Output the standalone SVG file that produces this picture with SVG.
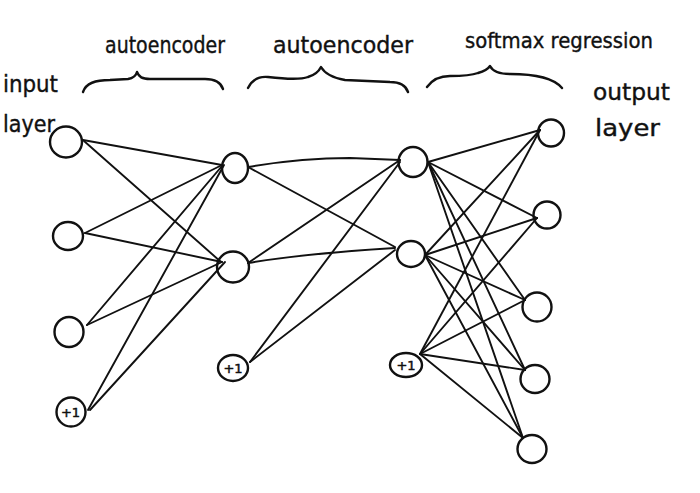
<svg xmlns="http://www.w3.org/2000/svg" width="700" height="493" viewBox="0 0 700 493">
<style>
.node{fill:none;stroke:#111;stroke-width:2.4}
.edge{stroke:#111;stroke-width:1.9;stroke-linecap:round;fill:none}
.brace{fill:none;stroke:#111;stroke-width:2.4;stroke-linecap:round;stroke-linejoin:round}
.lbl{font-family:"DejaVu Sans","Liberation Sans",sans-serif;fill:#111;stroke:#111;stroke-width:0.4}
.bias{font-family:"DejaVu Sans","Liberation Sans",sans-serif;font-size:13px;fill:#111;stroke:#111;stroke-width:0.5;text-anchor:middle}
</style>
<rect width="700" height="493" fill="#fff"/>
<g id="labels">
<text class="lbl" x="105" y="53" font-size="23" textLength="120" lengthAdjust="spacingAndGlyphs">autoencoder</text>
<text class="lbl" x="273" y="53" font-size="23" textLength="140" lengthAdjust="spacingAndGlyphs">autoencoder</text>
<text class="lbl" x="465" y="48" font-size="22" textLength="188" lengthAdjust="spacingAndGlyphs">softmax regression</text>
<text class="lbl" x="3" y="92" font-size="23" textLength="55" lengthAdjust="spacingAndGlyphs">input</text>
<text class="lbl" x="3" y="132" font-size="23" textLength="52" lengthAdjust="spacingAndGlyphs">layer</text>
<text class="lbl" x="593" y="100" font-size="23" textLength="77" lengthAdjust="spacingAndGlyphs">output</text>
<text class="lbl" x="595" y="136" font-size="23" textLength="65" lengthAdjust="spacingAndGlyphs">layer</text>
</g>
<g id="braces">
<path class="brace" d="M83,92 C86,83 95,80 110,80 L128,79 C134,78 136,76 137,72 C139,77 142,79 150,79 L205,79 C215,79 221,83 223,89"/>
<path class="brace" d="M248,88 C252,80 258,76 268,77 C285,79 300,80 308,77 C315,75 319,71 321,67 C325,74 333,78 345,80 L390,82 C400,82 406,86 408,92"/>
<path class="brace" d="M427,87 C432,80 440,76 450,76 C460,76 470,76 478,73 C485,71 488,69 490,66 C493,72 500,74 510,74 C530,74 552,76 562,88"/>
</g>
<g id="connectors">
<line class="edge" x1="83" y1="140" x2="222" y2="165"/>
<line class="edge" x1="84" y1="141" x2="221" y2="262"/>
<line class="edge" x1="85" y1="233" x2="222" y2="165"/>
<line class="edge" x1="85" y1="233" x2="222" y2="262"/>
<line class="edge" x1="87" y1="325" x2="222" y2="166"/>
<line class="edge" x1="87" y1="325" x2="222" y2="262"/>
<line class="edge" x1="88" y1="410" x2="224" y2="165"/>
<line class="edge" x1="90" y1="410" x2="225" y2="262"/>
<path class="edge" d="M248,167 Q300,158 350,158 L400,160"/>
<line class="edge" x1="248" y1="167" x2="395" y2="247"/>
<line class="edge" x1="248" y1="263" x2="400" y2="160"/>
<path class="edge" d="M248,263 Q300,254 395,248"/>
<line class="edge" x1="250" y1="362" x2="400" y2="162"/>
<line class="edge" x1="250" y1="362" x2="395" y2="250"/>
<line class="edge" x1="428" y1="162" x2="540" y2="130"/>
<line class="edge" x1="428" y1="162" x2="537" y2="218"/>
<line class="edge" x1="428" y1="162" x2="525" y2="300"/>
<line class="edge" x1="428" y1="162" x2="525" y2="370"/>
<line class="edge" x1="428" y1="162" x2="523" y2="438"/>
<line class="edge" x1="425" y1="255" x2="540" y2="130"/>
<line class="edge" x1="425" y1="255" x2="537" y2="218"/>
<line class="edge" x1="425" y1="255" x2="525" y2="300"/>
<line class="edge" x1="425" y1="255" x2="525" y2="370"/>
<line class="edge" x1="425" y1="255" x2="523" y2="438"/>
<line class="edge" x1="420" y1="354" x2="540" y2="130"/>
<line class="edge" x1="420" y1="354" x2="537" y2="218"/>
<line class="edge" x1="420" y1="354" x2="525" y2="300"/>
<line class="edge" x1="420" y1="354" x2="525" y2="370"/>
<line class="edge" x1="420" y1="354" x2="523" y2="438"/>
</g>
<g id="in1"><ellipse class="node" cx="66" cy="142" rx="16" ry="15.5"/></g>
<g id="in2"><ellipse class="node" cx="68" cy="236" rx="15" ry="14"/></g>
<g id="in3"><ellipse class="node" cx="69" cy="332" rx="14.5" ry="15"/></g>
<g id="in-bias"><ellipse class="node" cx="71" cy="412" rx="14.5" ry="14.5"/><text class="bias" x="70.5" y="417">+1</text></g>
<g id="h1a"><ellipse class="node" cx="235" cy="168" rx="13" ry="15"/></g>
<g id="h1b"><ellipse class="node" cx="233" cy="267" rx="16" ry="15.5"/></g>
<g id="h1-bias"><ellipse class="node" cx="233" cy="368" rx="15" ry="13"/><text class="bias" x="233" y="373">+1</text></g>
<g id="h2a"><ellipse class="node" cx="413" cy="162" rx="14.5" ry="15"/></g>
<g id="h2b"><ellipse class="node" cx="411" cy="254" rx="14" ry="13"/></g>
<g id="h2-bias"><ellipse class="node" cx="406" cy="365" rx="16" ry="12"/><text class="bias" x="406" y="370">+1</text></g>
<g id="o1"><ellipse class="node" cx="551" cy="133" rx="13" ry="13.5"/></g>
<g id="o2"><ellipse class="node" cx="547" cy="215" rx="13.5" ry="13.5"/></g>
<g id="o3"><ellipse class="node" cx="537" cy="307" rx="14.5" ry="14.5"/></g>
<g id="o4"><ellipse class="node" cx="535" cy="379" rx="14.5" ry="14"/></g>
<g id="o5"><ellipse class="node" cx="532" cy="449" rx="14.5" ry="14"/></g>
</svg>
